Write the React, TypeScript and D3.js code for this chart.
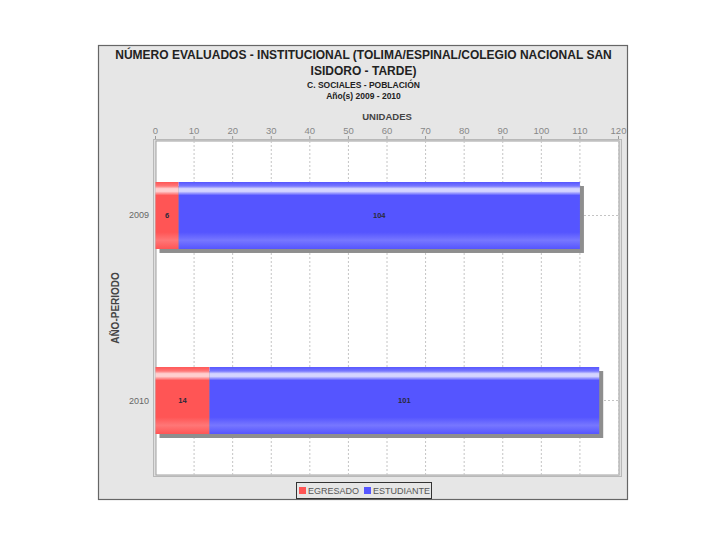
import React from "react";
import * as d3 from "d3";

const categories = ["2009", "2010"];
const seriesNames = ["EGRESADO", "ESTUDIANTE"];
const egresado = [6, 14];
const estudiante = [104, 101];
const xTicks = [0, 10, 20, 30, 40, 50, 60, 70, 80, 90, 100, 110, 120];
const titleLines = [
  "NÚMERO EVALUADOS - INSTITUCIONAL (TOLIMA/ESPINAL/COLEGIO NACIONAL SAN",
  "ISIDORO - TARDE)",
];
const subtitles = ["C. SOCIALES - POBLACIÓN", "Año(s) 2009 - 2010"];
const xTitle = "UNIDADES";
const yTitle = "AÑO-PERIODO";

const colors = ["#FF5555", "#5555FF"];
const highlights = ["#FFCFCF", "#D4D4FF"];
const lights = ["#FF7777", "#7777FF"];

const FONT = "'Liberation Sans', Arial, sans-serif";

export default function App() {
  const W = 728;
  const H = 546;
  const plotL = 156, plotR = 619, plotT = 141, plotB = 475;
  const x = d3.scaleLinear().domain([0, 120]).range([155.5, 618.5]);
  const y = d3
    .scaleBand()
    .domain(categories)
    .range([plotT, plotB])
    .paddingInner(0.638)
    .paddingOuter(0.2216);
  const bw = y.bandwidth();

  const stacks = categories.map((c, i) => {
    const vals = [egresado[i], estudiante[i]];
    let acc = 0;
    return vals.map((v, s) => {
      const seg = { cat: c, s, v, x0: acc, x1: acc + v };
      acc += v;
      return seg;
    });
  });

  return (
    <svg
      width={W}
      height={H}
      style={{ position: "absolute", left: 0, top: 0, fontFamily: FONT }}
    >
      <defs>
        {colors.map((c, s) => (
          <linearGradient key={s} id={`g${s}`} x1="0" y1="0" x2="0" y2="1">
            <stop offset="0" stopColor={c} />
            <stop offset="0.06" stopColor={lights[s]} />
            <stop offset="0.1" stopColor={highlights[s]} />
            <stop offset="0.14" stopColor={highlights[s]} />
            <stop offset="0.2" stopColor={c} />
            <stop offset="0.75" stopColor={c} />
            <stop offset="0.87" stopColor={lights[s]} />
            <stop offset="1" stopColor={c} />
          </linearGradient>
        ))}
      </defs>
      <rect x={0} y={0} width={W} height={H} fill="#ffffff" />
      {/* outer frame */}
      <rect x={98.5} y={45.5} width={529} height={454} fill="#E6E6E6" stroke="#666" strokeWidth={1.2} />

      {/* titles */}
      {titleLines.map((t, i) => (
        <text
          key={t}
          x={363.5}
          y={58.5 + i * 16}
          textAnchor="middle"
          fontSize={12}
          fontWeight="bold"
          fill="#222"
        >
          {t}
        </text>
      ))}
      {subtitles.map((t, i) => (
        <text
          key={t}
          x={363.5}
          y={88 + i * 11}
          textAnchor="middle"
          fontSize={8.5}
          fontWeight="bold"
          fill="#222"
        >
          {t}
        </text>
      ))}
      <text x={387} y={120} textAnchor="middle" fontSize={9.5} fontWeight="bold" fill="#444">
        {xTitle}
      </text>

      {/* axis lines / plot shadow */}
      <rect x={153} y={139} width={469} height={338} fill="#B8B8B8" />
      <rect x={154} y={140} width={467} height={336} fill="#E0E0E0" />
      <rect x={plotL} y={plotT} width={plotR - plotL} height={plotB - plotT} fill="#fff" stroke="#A0A0A0" strokeWidth={1} />

      {/* tick labels & marks */}
      {xTicks.map((t) => (
        <g key={t}>
          <line x1={x(t)} x2={x(t)} y1={136} y2={139} stroke="#999" />
          <text x={x(t)} y={133.5} textAnchor="middle" fontSize={9.5} fill="#888">
            {t}
          </text>
        </g>
      ))}

      {/* gridlines */}
      {xTicks.filter((t) => t > 0).map((t) => (
        <line
          key={"g" + t}
          x1={x(t)}
          x2={x(t)}
          y1={plotT}
          y2={plotB}
          stroke="#C4C4C4"
          strokeDasharray="2,2"
        />
      ))}
      {categories.map((c) => (
        <line
          key={"h" + c}
          x1={plotL}
          x2={plotR}
          y1={(y(c) as number) + bw / 2}
          y2={(y(c) as number) + bw / 2}
          stroke="#C4C4C4"
          strokeDasharray="2,2"
        />
      ))}

      {/* bars */}
      {stacks.map((segs, i) => {
        const c = categories[i];
        const by = y(c) as number;
        const total = segs[segs.length - 1].x1;
        return (
          <g key={c}>
            <rect x={x(0) + 4} y={by + 4} width={x(total) - x(0)} height={bw} fill="#8E8E8E" />
            {segs.map((sg) => (
              <rect
                key={sg.s}
                x={x(sg.x0)}
                y={by}
                width={x(sg.x1) - x(sg.x0)}
                height={bw}
                fill={`url(#g${sg.s})`}
              />
            ))}
            {segs.map((sg) => (
              <text
                key={"t" + sg.s}
                x={(x(sg.x0) + x(sg.x1)) / 2}
                y={by + bw / 2 + 2.8}
                textAnchor="middle"
                fontSize={7.5}
                fontWeight="bold"
                fill="#2a2a3a"
              >
                {sg.v}
              </text>
            ))}
            <text x={149} y={by + bw / 2 + 3} textAnchor="end" fontSize={9} fill="#666">
              {c}
            </text>
          </g>
        );
      })}

      {/* y title */}
      <text
        transform={`translate(${119},${308}) rotate(-90)`}
        textAnchor="middle"
        fontSize={10}
        fontWeight="bold"
        fill="#444"
      >
        {yTitle}
      </text>

      {/* legend */}
      <rect x={296.5} y={482.5} width={135} height={16} fill="#E6E6E6" stroke="#333" strokeWidth={1} />
      {seriesNames.map((n, s) => {
        const lx = s === 0 ? 299 : 364;
        return (
          <g key={n}>
            <rect x={lx} y={487} width={7} height={7} fill={colors[s]} />
            <text x={lx + 9} y={494} fontSize={9} fill="#555">
              {n}
            </text>
          </g>
        );
      })}
    </svg>
  );
}
